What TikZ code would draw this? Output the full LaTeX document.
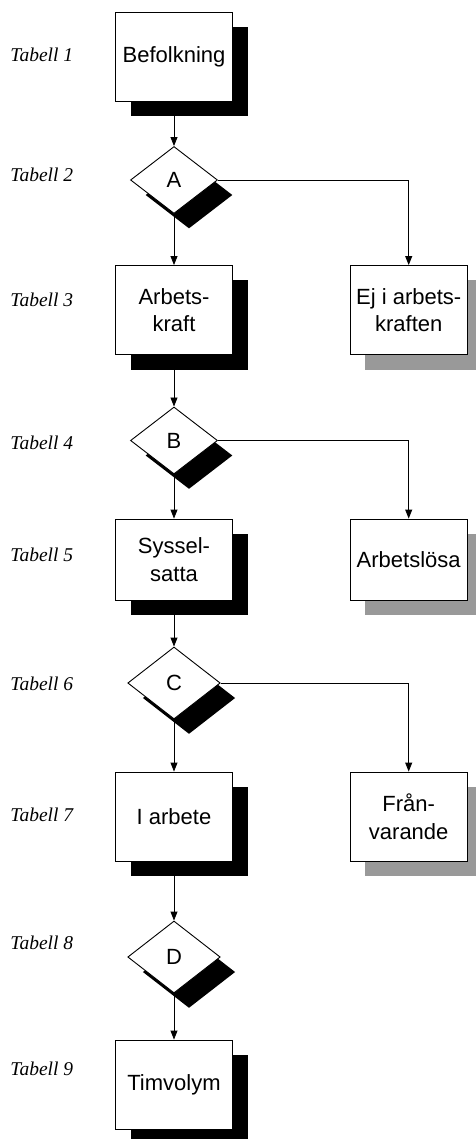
\documentclass[tikz,border=0pt]{standalone}
\usepackage{fontspec}
\setmainfont{Liberation Sans}
\newfontfamily\tabfont{Liberation Serif}
\usepackage{tikz}
\usetikzlibrary{shapes, positioning, calc, arrows.meta, shadows}

\begin{document}
\begin{tikzpicture}[x=1pt, y=-1pt, line width=0.9pt,
	ruta/.style={draw, fill=white, minimum width=117pt, minimum height=89pt, inner sep=0pt, align=center, font=\fontsize{22}{27.5}\selectfont},
	svart/.style={drop shadow={shadow xshift=15pt, shadow yshift=-15pt, fill=black, opacity=1}},
	gra/.style={drop shadow={shadow xshift=15pt, shadow yshift=-15pt, fill=black!40, opacity=1}},
	val/.style={diamond, draw, fill=white, inner sep=0pt, minimum width=87pt, minimum height=67pt, font=\fontsize{22}{26}\selectfont, svart},
	tabell/.style={anchor=base west, inner sep=0pt, font=\tabfont\itshape\fontsize{19.5}{22}\selectfont},
	pil/.style={-{Triangle[length=9pt, width=7pt]}}]
	
	\useasboundingbox (0,0) rectangle (475,1139);
	
	%//left column
	
	\node[ruta, svart] (bef) at (174,56.5) {Befolkning};
	\node[val] (A) at (174,180) {A};
	\node[ruta, svart] (arb) at (174,310) {Arbets-\\kraft};
	\node[val] (B) at (174,440.5) {B};
	\node[ruta, svart, minimum height=81pt] (syss) at (174,559.5) {Syssel-\\satta};
	\node[val, minimum width=92.5pt, minimum height=72pt] (C) at (174,683) {C};
	\node[ruta, svart] (iarb) at (174,816.5) {I arbete};
	\node[val, minimum width=92.5pt, minimum height=72pt] (D) at (174,957) {D};
	\node[ruta, svart] (tim) at (174,1084.5) {Timvolym};
	
	%//right column
	
	\node[ruta, gra] (ej) at (408.7,310) {Ej i arbets-\\kraften};
	\node[ruta, gra, minimum height=81pt] (arbl) at (408.7,559.5) {Arbetslösa};
	\node[ruta, gra] (fran) at (408.7,816.5) {Från-\\varande};
	
	\foreach \a/\b in {bef/A, A/arb, arb/B, B/syss, syss/C, C/iarb, iarb/D, D/tim}
	\draw[pil] (\a) -- (\b);
	
	\foreach \a/\b in {A/ej, B/arbl, C/fran}
	\draw[pil] (\a.east) -| (\b.north);
	
	\foreach \n/\y in {1/61.7, 2/181.7, 3/306.7, 4/449.3, 5/561.7, 6/690, 7/821, 8/949, 9/1075.7}
	\node[tabell] (tab\n) at (10,\y) {Tabell \n};
\end{tikzpicture}
\end{document}
